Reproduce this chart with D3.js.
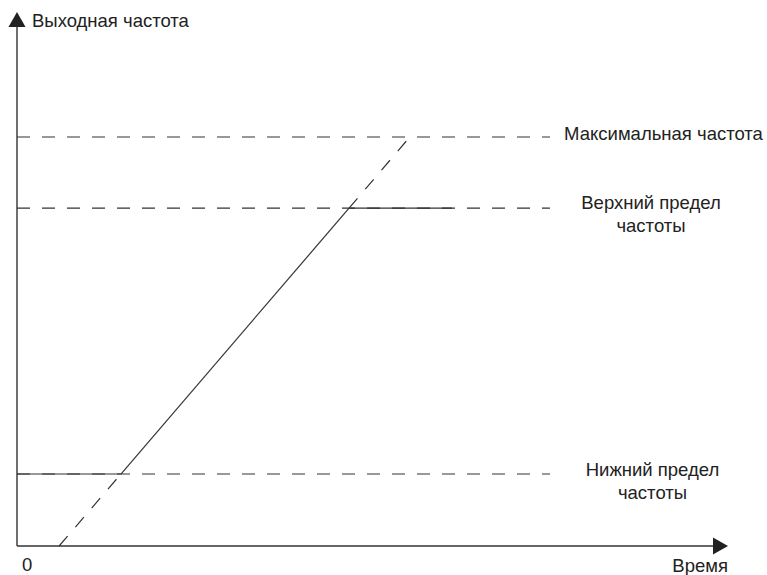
<!DOCTYPE html>
<html>
<head>
<meta charset="utf-8">
<script src="https://cdn.jsdelivr.net/npm/d3@7"></script>
<style>
  body { margin: 0; background: #fff; }
  text { font-family: "Liberation Sans", Arial, sans-serif; fill: #222; }
</style>
</head>
<body>
<svg width="767" height="575"></svg>
<script>
// levels, in % of max output frequency
var levelNames = ["Максимальная частота", "Верхний предел\nчастоты", "Нижний предел\nчастоты"];
var levelValues = [100, 82.6, 17.6];
// solid part of each level line [from, to] in time units (null = none)
var levelSolid = [null, [62.3, 81.6], [0, 19.5]];
// ramp of output frequency: time, frequency
var rampTime = [7.9, 19.5, 62.3, 73.7];
var rampFreq = [0, 17.6, 82.6, 100];
var rampStyle = ["dashed", "solid", "dashed"];
var levelEnd = 100;
var axisLabels = {y: "Выходная частота", x: "Время", origin: "0"};

var svg = d3.select("svg");

var x = d3.scaleLinear().domain([0, 133.4]).range([17, 728]),
    y = d3.scaleLinear().domain([0, 100]).range([546, 137]);

var stroke = "#333", dash = "13,12", fs = "18.5px";
var labelX = [663.5, 651, 652.5],
    labelDy = [3, 1, 2];

var line = d3.line()
    .x(function(d) { return x(d[0]); })
    .y(function(d) { return y(d[1]); });

// level lines
levelValues.forEach(function(v, i) {
  svg.append("path")
      .attr("d", line([[0, v], [levelEnd, v]]))
      .attr("stroke", stroke)
      .attr("stroke-width", 1.2)
      .attr("stroke-dasharray", dash)
      .attr("fill", "none");
  if (levelSolid[i]) {
    svg.append("path")
        .attr("d", line([[levelSolid[i][0], v], [levelSolid[i][1], v]]))
        .attr("stroke", stroke)
        .attr("stroke-width", 1.2)
        .attr("fill", "none");
  }
  var lines = levelNames[i].split("\n");
  var t = svg.append("text")
      .attr("text-anchor", "middle")
      .attr("x", labelX[i])
      .attr("y", y(v) + labelDy[i])
      .style("font-size", fs);
  lines.forEach(function(s, k) {
    t.append("tspan")
        .attr("x", labelX[i])
        .attr("dy", k == 0 ? 0 : 23)
        .text(s);
  });
});

// ramp
for (var i = 0; i < rampTime.length - 1; i++) {
  svg.append("path")
      .attr("d", line([[rampTime[i], rampFreq[i]], [rampTime[i + 1], rampFreq[i + 1]]]))
      .attr("stroke", stroke)
      .attr("stroke-width", 1.2)
      .attr("stroke-dasharray", rampStyle[i] == "dashed" ? dash : null)
      .attr("fill", "none");
}

// axes
var x0 = x(0), y0 = y(0);
svg.append("line")
    .attr("x1", x0).attr("y1", y0).attr("x2", x0).attr("y2", 22)
    .attr("stroke", stroke).attr("stroke-width", 1.4);
svg.append("line")
    .attr("x1", x0).attr("y1", y0).attr("x2", 716).attr("y2", y0)
    .attr("stroke", stroke).attr("stroke-width", 1.4);
svg.append("path")
    .attr("d", "M" + x0 + ",12L" + (x0 + 8.5) + ",27L" + (x0 - 8.5) + ",27Z")
    .attr("fill", "#222");
svg.append("path")
    .attr("d", "M728," + y0 + "L713," + (y0 - 8.5) + "L713," + (y0 + 8.5) + "Z")
    .attr("fill", "#222");

svg.append("text")
    .attr("x", 32).attr("y", 27)
    .style("font-size", fs)
    .text(axisLabels.y);
svg.append("text")
    .attr("x", 728).attr("y", 572)
    .attr("text-anchor", "end")
    .style("font-size", fs)
    .text(axisLabels.x);
svg.append("text")
    .attr("x", 22).attr("y", 571)
    .style("font-size", fs)
    .text(axisLabels.origin);
</script>
</body>
</html>
